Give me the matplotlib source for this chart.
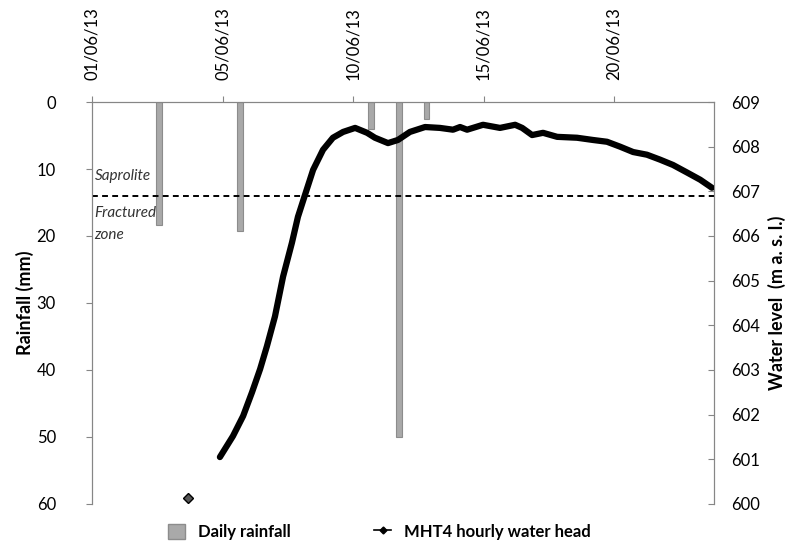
import numpy as np
import matplotlib.pyplot as plt
from matplotlib.patches import Patch
from matplotlib.lines import Line2D

plt.rcParams['font.family'] = ['Lato', 'DejaVu Sans']

# day offsets from the left edge of the axis
tick_days = [0, 5, 10, 15, 20]
tick_labels = ['01/06/13', '05/06/13', '10/06/13', '15/06/13', '20/06/13']

rain_days = [2.57, 5.67, 10.69, 11.76, 12.80]
rain_mm = [18.3, 19.3, 4.0, 50.0, 2.5]

# hourly head (nan = gap in the record)
wl_days = [3.68, np.nan,
           4.90, 5.40, 5.79, 6.13, 6.44, 6.70, 7.01, 7.32, 7.66, 7.89, 8.16,
           8.47, 8.85, 9.23, 9.62, 10.08, 10.54, 10.84, 11.34, 11.72, 12.18,
           12.76, 13.33, 13.83, 14.10, 14.37, 14.98, 15.63, 16.21, 16.48,
           16.86, 17.28, 17.82, 18.58, 19.19, 19.73, 20.23, 20.73, 21.26,
           21.76, 22.26, 22.80, 23.30, 23.75]
wl_level = [600.14, np.nan,
            601.05, 601.52, 601.97, 602.50, 603.02, 603.53, 604.20, 605.09,
            605.85, 606.43, 606.92, 607.48, 607.93, 608.20, 608.33, 608.42,
            608.31, 608.20, 608.08, 608.15, 608.33, 608.44, 608.42, 608.38,
            608.44, 608.38, 608.49, 608.42, 608.49, 608.42, 608.26, 608.31,
            608.22, 608.20, 608.15, 608.11, 608.00, 607.88, 607.82, 607.71,
            607.59, 607.42, 607.26, 607.08]

boundary_mm = 14

spine_col = '#868686'
fig = plt.figure(figsize=(7.91, 5.49), dpi=100)
ax = fig.add_axes([0.1163, 0.082, 0.7864, 0.7322])

ax.bar(rain_days, rain_mm, width=0.2, color='#a9a9a9', edgecolor='#8c8c8c',
       linewidth=0.8, zorder=2)
ax.axhline(boundary_mm, color='black', linestyle=(0, (3, 2.2)), linewidth=1.4, zorder=3)

ax.set_xlim(0, 23.83)
ax.set_ylim(60, 0)
ax.set_yticks(range(0, 61, 10))
ax.xaxis.tick_top()
ax.set_xticks(tick_days)
ax.set_xticklabels(tick_labels, rotation=90, fontsize=12)
ax.tick_params(axis='x', direction='out', length=4, color=spine_col, pad=12)
ax.tick_params(axis='y', direction='out', length=4, color=spine_col, labelsize=12, pad=22)
ax.set_ylabel('Rainfall (mm)', fontsize=13, fontweight='bold', labelpad=2)

ax.spines['bottom'].set_visible(False)
for s in ['top', 'left', 'right']:
    ax.spines[s].set_color(spine_col)

ax.text(0.1, 11.0, 'Saprolite', style='italic', fontsize=11, color='#333333', va='center')
ax.text(0.1, 16.6, 'Fractured', style='italic', fontsize=11, color='#333333', va='center')
ax.text(0.1, 19.8, 'zone', style='italic', fontsize=11, color='#333333', va='center')

ax2 = ax.twinx()
ax2.plot(wl_days, wl_level, color='black', linewidth=4.5, solid_capstyle='round',
         solid_joinstyle='round', zorder=4)
ax2.plot(wl_days[:1], wl_level[:1], 'D', color='black', markersize=5,
         markerfacecolor='#555555')
ax2.set_ylim(600, 609)
ax2.set_yticks(range(600, 610))
ax2.tick_params(axis='y', direction='in', length=4, color=spine_col, labelsize=12, pad=12)
ax2.set_ylabel('Water level  (m a. s. l.)', fontsize=13, fontweight='bold', labelpad=6)
ax2.spines['bottom'].set_visible(False)
for s in ['top', 'left', 'right']:
    ax2.spines[s].set_color(spine_col)

handles = [Patch(facecolor='#a9a9a9', edgecolor='#8c8c8c', label='Daily rainfall'),
           Line2D([0], [0], color='black', marker='D', markersize=3.5, linewidth=1.2,
                  label='MHT4 hourly water head')]
leg = fig.legend(handles=handles, loc='center', bbox_to_anchor=(0.48, 0.031), ncol=2,
                 frameon=False, columnspacing=5.0, handlelength=1.0, handleheight=1.0,
                 handletextpad=0.8, prop={'weight': 'bold', 'size': 12})

fig.savefig('out.png', dpi=100)
